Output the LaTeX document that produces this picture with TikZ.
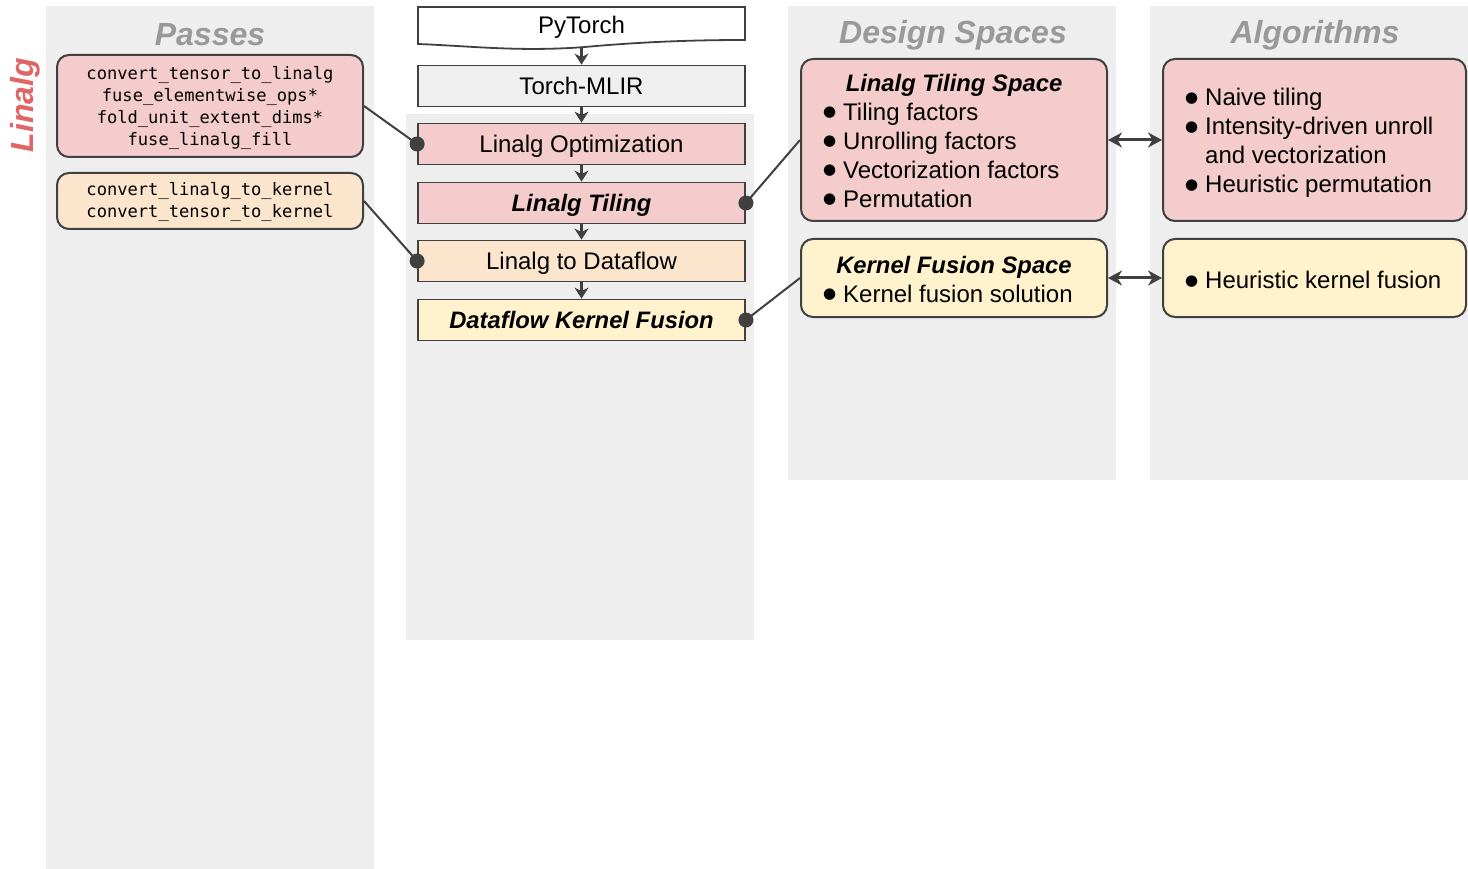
\documentclass[tikz,border=0pt]{standalone}
\usepackage{fontspec}
\setmainfont{Liberation Sans}
\newfontfamily\codefont{DejaVu Sans Mono}
\newfontfamily\dejavu{DejaVu Sans}
\usetikzlibrary{arrows.meta}
\definecolor{pinkfill}{HTML}{F4CCCC}
\definecolor{orangefill}{HTML}{FCE5CD}
\definecolor{yellowfill}{HTML}{FFF2CC}
\definecolor{bggray}{HTML}{EEEEEE}
\definecolor{torchgray}{HTML}{EFEFEF}
\definecolor{headgray}{HTML}{999999}
\definecolor{redtext}{HTML}{E06666}
\definecolor{darkline}{HTML}{404040}
\newcommand{\bul}{\makebox[20pt][l]{\raisebox{3.5pt}{\dejavu\fontsize{15}{0}\selectfont ●}}}
\begin{document}
\begin{tikzpicture}[x=1pt,y=-1pt,
  rbox/.style={draw=darkline, line width=2pt, rounded corners=12pt, inner sep=0pt},
  sbox/.style={draw=darkline, line width=1.8pt, inner sep=0pt, minimum width=327pt, minimum height=41pt,
    text depth=0pt, font=\fontsize{24}{28}\selectfont},
  head/.style={text=headgray, font=\fontsize{32}{36}\selectfont\bfseries\itshape},
  code/.style={font=\codefont\fontsize{17.1}{22}\selectfont, align=center},
  txt/.style={font=\fontsize{24}{29}\selectfont, align=left, anchor=west, inner sep=0pt},
  ttl/.style={font=\fontsize{23.8}{28}\selectfont\bfseries\itshape, inner sep=0pt},
  flow/.style={draw=darkline, line width=2.4pt, -{Stealth[length=11pt,width=14pt,inset=3.5pt]}},
  link/.style={draw=darkline, line width=2pt},
  dbl/.style={draw=darkline, line width=3pt, {Stealth[length=14pt,width=15pt,inset=4.5pt]}-{Stealth[length=14pt,width=15pt,inset=4.5pt]}},
  dot/.style={fill=darkline}
]
\useasboundingbox (0,0) rectangle (1468,869);
% column backgrounds
\fill[bggray] (46,6) rectangle (374,869);
\fill[bggray] (406,114) rectangle (754,640);
\fill[bggray] (788,6) rectangle (1116,480);
\fill[bggray] (1150,6) rectangle (1468,480);
% headers
\node[head] (hp) at (210,35) {Passes};
\node[head] (hd) at (953,35) {Design Spaces};
\node[head] (ha) at (1315,35) {Algorithms};
\node[rotate=90, text=redtext, font=\fontsize{32}{36}\selectfont\bfseries\itshape] (lin) at (25,105) {Linalg};
% passes
\node[rbox, fill=pinkfill, minimum width=306pt, minimum height=102pt] (p1) at (210,106) {};
\node[code] (p1t) at (210,108) {convert\_tensor\_to\_linalg\\fuse\_elementwise\_ops*\\fold\_unit\_extent\_dims*\\fuse\_linalg\_fill};
\node[rbox, fill=orangefill, minimum width=306pt, minimum height=56pt] (p2) at (210,201) {};
\node[code] (p2t) at (210,202) {convert\_linalg\_to\_kernel\\convert\_tensor\_to\_kernel};
% middle flow
\node[minimum width=327pt, minimum height=36pt, inner sep=0pt] (py) at (581.5,25) {};
\draw[darkline, line width=1.8pt, fill=white] (418,7) -- (745,7) -- (745,40)
  .. controls (690,40) and (640,42) .. (585,47) .. controls (520,52) and (470,46) .. (418,44) -- cycle;
\node[font=\fontsize{24}{28}\selectfont, text depth=0pt] (pyt) at (581.5,25) {PyTorch};
\node[sbox, fill=torchgray] (tm) at (581.5,86) {Torch-MLIR};
\node[sbox, fill=pinkfill] (lo) at (581.5,144) {Linalg Optimization};
\node[sbox, fill=pinkfill, font=\fontsize{23.8}{28}\selectfont\bfseries\itshape] (lt) at (581.5,203) {Linalg Tiling};
\node[sbox, fill=orangefill] (ld) at (581.5,261) {Linalg to Dataflow};
\node[sbox, fill=yellowfill, font=\fontsize{23.8}{28}\selectfont\bfseries\itshape] (dk) at (581.5,320) {Dataflow Kernel Fusion};
\draw[flow] (581.5,47) -- (tm.north);
\draw[flow] (tm.south) -- (lo.north);
\draw[flow] (lo.south) -- (lt.north);
\draw[flow] (lt.south) -- (ld.north);
\draw[flow] (ld.south) -- (dk.north);
% design spaces
\node[rbox, fill=pinkfill, minimum width=306pt, minimum height=162pt] (ds1) at (954,140) {};
\node[ttl] (ds1t) at (954,85) {Linalg Tiling Space};
\node[txt] (ds1b) at (823,155) {\bul Tiling factors\\\bul Unrolling factors\\\bul Vectorization factors\\\bul Permutation};
\node[rbox, fill=yellowfill, minimum width=306pt, minimum height=78pt] (ds2) at (954,278) {};
\node[ttl] (ds2t) at (954,267) {Kernel Fusion Space};
\node[txt] (ds2b) at (823,293.5) {\bul Kernel fusion solution};
% algorithms
\node[rbox, fill=pinkfill, minimum width=303pt, minimum height=162pt] (al1) at (1314.5,140) {};
\node[txt] (al1b) at (1185,143) {\bul Naive tiling\\\bul Intensity-driven unroll\\\makebox[20pt][l]{}and vectorization\\\bul Heuristic permutation};
\node[rbox, fill=yellowfill, minimum width=303pt, minimum height=78pt] (al2) at (1314.5,278) {};
\node[txt] (al2b) at (1185,280) {\bul Heuristic kernel fusion};
% connectors
\draw[link] (p1.east) -- (lo.west);
\fill[dot] (lo.west) circle[radius=7.5pt];
\draw[link] (p2.east) -- (ld.west);
\fill[dot] (ld.west) circle[radius=7.5pt];
\draw[link] (lt.east) -- (ds1.west);
\fill[dot] (lt.east) circle[radius=7.5pt];
\draw[link] (dk.east) -- (ds2.west);
\fill[dot] (dk.east) circle[radius=7.5pt];
\draw[dbl] (ds1.east) -- (al1.west);
\draw[dbl] (ds2.east) -- (al2.west);
\end{tikzpicture}
\end{document}
